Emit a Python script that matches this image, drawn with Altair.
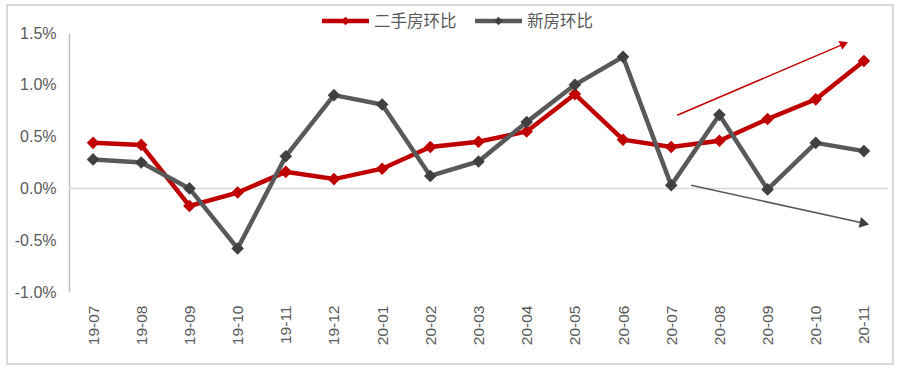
import altair as alt
import pandas as pd

months = ["19-07", "19-08", "19-09", "19-10", "19-11", "19-12", "20-01", "20-02", "20-03",
          "20-04", "20-05", "20-06", "20-07", "20-08", "20-09", "20-10", "20-11"]
resale = [0.44, 0.42, -0.17, -0.04, 0.16, 0.09, 0.19, 0.40, 0.45,
          0.55, 0.91, 0.47, 0.40, 0.46, 0.67, 0.86, 1.23]
newhome = [0.28, 0.25, 0.00, -0.58, 0.31, 0.90, 0.81, 0.12, 0.26,
           0.64, 1.00, 1.27, 0.03, 0.71, -0.01, 0.44, 0.36]
series_names = ["二手房环比", "新房环比"]
line_colors = ["#c00000", "#595959"]
marker_colors = ["#c00000", "#404040"]
y_ticks = [-1.0, -0.5, 0.0, 0.5, 1.0, 1.5]

# trend arrows (start month, start value, end month, end value)
red_arrow = {"x0": "20-07", "y0": 0.706, "x1": "20-11", "y1": 1.39}
gray_arrow = {"x0": "20-07", "y0": 0.03, "x1": "20-11", "y1": -0.335}

rows = []
for m, a, b in zip(months, resale, newhome):
    rows.append({"month": m, "series": series_names[0], "value": a})
    rows.append({"month": m, "series": series_names[1], "value": b})
df = pd.DataFrame(rows)

FONT = "Liberation Sans, Arial, Noto Sans CJK SC"
xscale = alt.Scale(domain=months, type="point", padding=0.5)
yscale = alt.Scale(domain=[-1.0, 1.5], nice=False, zero=False)


def xenc(field, axis=False):
    if axis:
        return alt.X(f"{field}:O", scale=xscale, title=None,
                     axis=alt.Axis(labelAngle=-90, domain=False, ticks=False, grid=False,
                                   labelFontSize=15.5, labelColor="#595959", labelFont=FONT,
                                   labelPadding=13))
    return alt.X(f"{field}:O", scale=xscale, title=None)


base = alt.Chart(df)

border = alt.Chart(pd.DataFrame({"a": [0]})).mark_rect(
    filled=False, stroke="#d9d9d9", strokeWidth=2
).encode(x=alt.value(-62), x2=alt.value(824), y=alt.value(-28), y2=alt.value(331))

zero = alt.Chart(pd.DataFrame({"a": [0]})).mark_rule(color="#d9d9d9", strokeWidth=1.5).encode(
    y=alt.datum(0, scale=yscale)
)

lines = base.mark_line(strokeWidth=4.5).encode(
    x=xenc("month", axis=True),
    y=alt.Y("value:Q", scale=yscale, title=None,
            axis=alt.Axis(values=y_ticks, domain=True, domainColor="#bfbfbf", domainWidth=1.5,
                          ticks=False, grid=False, labelFontSize=16, labelColor="#595959",
                          labelFont=FONT, labelPadding=13,
                          labelExpr="(datum.value < 0 ? '-' : '') + format(abs(datum.value), '.1f') + '%'")),
    color=alt.Color("series:N", scale=alt.Scale(domain=series_names, range=line_colors), legend=None),
)

points = base.mark_point(shape="diamond", filled=True, size=160, opacity=1, strokeWidth=0).encode(
    x=xenc("month"),
    y=alt.Y("value:Q", scale=yscale, title=None),
    fill=alt.Fill("series:N", scale=alt.Scale(domain=series_names, range=marker_colors), legend=None),
)


def arrow(spec, color, head_color, dx0, dx1, angle, size):
    d = pd.DataFrame([spec])
    seg = alt.Chart(d).mark_rule(color=color, strokeWidth=1.5, xOffset=dx0, x2Offset=dx1).encode(
        x=xenc("x0"), x2="x1:O",
        y=alt.Y("y0:Q", scale=yscale, title=None), y2="y1:Q",
    )
    head = alt.Chart(d).mark_point(shape="triangle", filled=True, color=head_color, size=size,
                                   angle=angle, opacity=1, strokeWidth=0, xOffset=dx1).encode(
        x=xenc("x1"), y=alt.Y("y1:Q", scale=yscale, title=None),
    )
    return seg + head


a1 = arrow(red_arrow, "#c00000", "#c00000", 6, -21, 67, 90)
a2 = arrow(gray_arrow, "#595959", "#404040", 20, -1, 102, 120)


# hand-built legend (line + diamond + label) above the plot
def legend_item(i, left):
    d = pd.DataFrame({"name": [series_names[i]]})
    ln = alt.Chart(d).mark_rule(color=line_colors[i], strokeWidth=4.5).encode(
        x=alt.value(left), x2=alt.value(left + 47), y=alt.value(-12))
    dm = alt.Chart(d).mark_point(shape="diamond", filled=True, size=70, opacity=1, strokeWidth=0,
                                 color=marker_colors[i]).encode(
        x=alt.value(left + 23.5), y=alt.value(-12))
    tx = alt.Chart(d).mark_text(align="left", baseline="middle", fontSize=16.5,
                                font="Noto Sans CJK SC", color="#595959").encode(
        text="name:N", x=alt.value(left + 52), y=alt.value(-11))
    return ln + dm + tx


leg = legend_item(0, 253) + legend_item(1, 406)

chart = alt.layer(border, zero, lines, points, a1, a2, leg).properties(
    width=819, height=259,
    autosize=alt.AutoSizeParams(type="none"),
    padding={"left": 69, "top": 33, "right": 11, "bottom": 78},
    background="white",
).configure_view(stroke=None)

chart.save("out.html", embed_options={"renderer": "svg", "actions": False})
